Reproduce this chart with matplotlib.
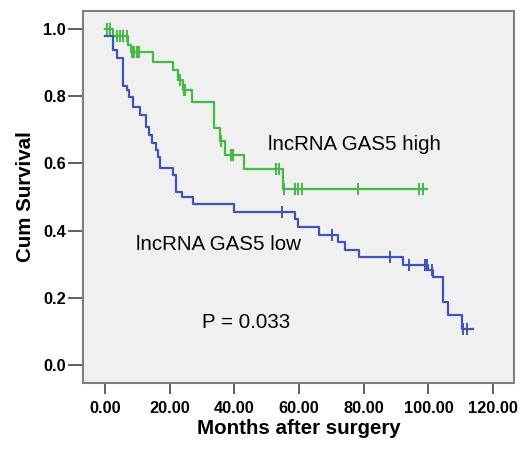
import matplotlib
matplotlib.use("Agg")
import matplotlib.pyplot as plt
import numpy as np

plt.rcParams["font.family"] = ["Liberation Sans", "DejaVu Sans"]

# lncRNA GAS5 high: event times (months) and survival after each step
high_times = [0, 2.6, 7.2, 8.0, 15.0, 21.1, 22.7, 24.0, 27.0, 33.8, 35.6, 37.1, 42.9, 55.0]
high_surv = [1.0, 0.98, 0.953, 0.930, 0.903, 0.878, 0.849, 0.817, 0.783, 0.705, 0.666,
             0.626, 0.584, 0.525]
high_end = 99.5
high_censor = [0.5, 1.5, 3.6, 4.6, 5.7, 6.7, 8.3, 9.0, 9.8, 10.6, 23.2, 24.3, 24.9, 36.0,
               38.9, 39.7, 52.9, 53.9, 55.3, 58.8, 59.8, 60.8, 78.1, 97.2, 98.3]

# lncRNA GAS5 low
low_times = [0, 2.6, 3.6, 5.7, 6.7, 7.5, 8.6, 10.8, 12.7, 13.7, 14.7, 15.7, 16.5, 17.0,
             21.1, 22.0, 23.7, 27.1, 40.0, 58.8, 59.8, 66.3, 72.2, 74.2, 78.4, 92.3,
             100.0, 101.5, 104.4, 106.2, 110.3]
low_surv = [0.98, 0.936, 0.914, 0.830, 0.818, 0.798, 0.769, 0.744, 0.709, 0.685, 0.662,
            0.640, 0.620, 0.585, 0.565, 0.516, 0.499, 0.479, 0.456, 0.436, 0.412, 0.388,
            0.367, 0.344, 0.322, 0.298, 0.283, 0.263, 0.188, 0.149, 0.109]
low_end = 113.9
low_censor = [54.8, 70.1, 88.1, 94.1, 99.0, 99.6, 101.0, 110.8, 111.9]

x_ticks = [0, 20, 40, 60, 80, 100, 120]
y_ticks = [0.0, 0.2, 0.4, 0.6, 0.8, 1.0]

green = "#42bb42"
blue = "#3f55b5"


def draw_km(ax, times, surv, end, censor, color):
    t = list(times) + [end]
    s = list(surv) + [surv[-1]]
    ax.step(t, s, where="post", color=color, lw=1.6)
    idx = np.searchsorted(times, censor, side="right") - 1
    cy = np.array(surv)[idx]
    ax.plot(censor, cy, ls="none", marker="|", ms=8.5, mew=1.4, color=color)


fig = plt.figure(figsize=(5.23, 4.49), dpi=100)
ax = fig.add_axes([0.158, 0.147, 0.825, 0.829])
ax.set_facecolor("#f0f0f0")

draw_km(ax, high_times, high_surv, high_end, high_censor, green)
draw_km(ax, low_times, low_surv, low_end, low_censor, blue)

ax.text(50.4, 0.656, "lncRNA GAS5 high", fontsize=14.8, va="center", ha="left")
ax.text(9.6, 0.359, "lncRNA GAS5 low", fontsize=14.8, va="center", ha="left")
ax.text(29.9, 0.127, "P = 0.033", fontsize=14.8, va="center", ha="left")

ax.set_xlim(-6.9, 126.5)
ax.set_ylim(-0.053, 1.054)
ax.set_xticks(x_ticks)
ax.set_xticklabels(["%.2f" % v for v in x_ticks], fontsize=11.8, fontweight="bold")
ax.set_yticks(y_ticks)
ax.set_yticklabels(["%.1f" % v for v in y_ticks], fontsize=11.8, fontweight="bold")
ax.tick_params(axis="y", length=11, width=1.2, color="#444444", pad=1)
ax.tick_params(axis="x", length=8, width=1.2, color="#444444", pad=5)

for sp in ax.spines.values():
    sp.set_color("#808080")
    sp.set_linewidth(1.5)

ax.set_xlabel("Months after surgery", fontsize=14.8, fontweight="bold", labelpad=2)
ax.set_ylabel("Cum Survival", fontsize=14.8, fontweight="bold", labelpad=6)

fig.savefig("out.png", dpi=100, facecolor="white")
